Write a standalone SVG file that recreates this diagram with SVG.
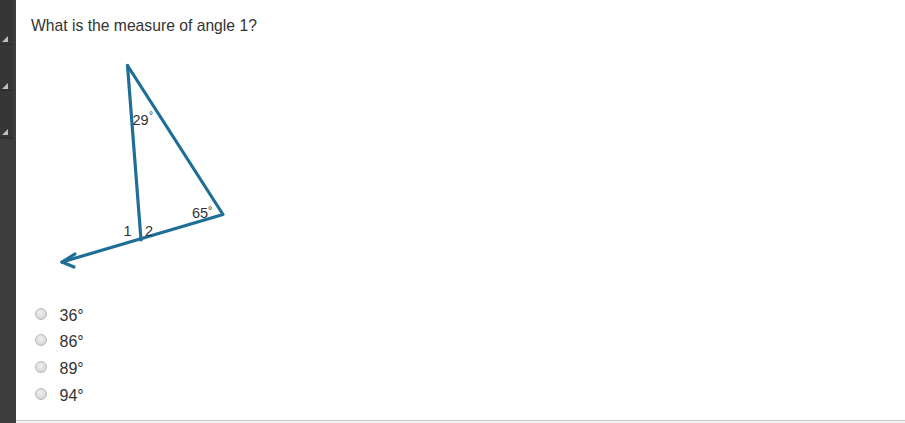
<svg xmlns="http://www.w3.org/2000/svg" width="905" height="423" viewBox="0 0 905 423">
<defs>
<style>
.t{font-family:"Liberation Sans",Arial,sans-serif;fill:#333;}
.q{font-size:15.7px;}
.o{font-size:16px;}
.l{font-size:14.5px;fill:#333;}
.e{fill:none;stroke:#1f6e97;stroke-width:3.2;stroke-linecap:round;stroke-linejoin:round;}
.r{stroke:#bdbdbd;stroke-width:1;fill:url(#rg);}
.tri{fill:#bdbdbd;}
</style>
<radialGradient id="rg" cx="0.45" cy="0.4" r="0.6">
<stop offset="0" stop-color="#f2f2f2"/>
<stop offset="1" stop-color="#d2d2d2"/>
</radialGradient>
</defs>
<rect width="905" height="423" fill="#fff"/>
<g id="sidebar">
<rect x="0" y="0" width="16" height="423" fill="#3d3d3d"/>
<rect x="0" y="0" width="13" height="140" fill="#363636"/>
<line x1="0" y1="44.5" x2="13" y2="44.5" stroke="#2a2a2a"/>
<line x1="0" y1="90.5" x2="13" y2="90.5" stroke="#2a2a2a"/>
<line x1="0" y1="137.5" x2="13" y2="137.5" stroke="#2a2a2a"/>
<polygon class="tri" points="8,36 8,42 2,42"/>
<polygon class="tri" points="8,83 8,89 2,89"/>
<polygon class="tri" points="8,129 8,135 2,135"/>
</g>
<g id="footer">
<rect x="16" y="420" width="889" height="3" fill="#f2f2f2"/>
<line x1="16" y1="420.5" x2="905" y2="420.5" stroke="#cccccc"/>
</g>
<text class="t q" x="31" y="31">What is the measure of angle 1?</text>
<g id="figure">
<polyline class="e" points="127.5,65.5 223,214.5 62,262"/>
<line class="e" x1="127.5" y1="65.5" x2="141" y2="240"/>
<polyline class="e" points="75,254 62,262 74,267"/>
<text class="t l" x="132.5" y="125">29</text>
<text class="t" x="149" y="119" font-size="10">°</text>
<text class="t l" x="192" y="218">65</text>
<text class="t" x="208" y="214" font-size="11">°</text>
<text class="t l" x="123.5" y="236">1</text>
<text class="t l" x="145" y="236">2</text>
</g>
<g id="options">
<g id="opt1"><circle class="r" cx="41" cy="314" r="5.5"/><text class="t o" x="59.5" y="321">36°</text></g>
<g id="opt2"><circle class="r" cx="41" cy="340" r="5.5"/><text class="t o" x="59.5" y="347">86°</text></g>
<g id="opt3"><circle class="r" cx="41" cy="367" r="5.5"/><text class="t o" x="59.5" y="374">89°</text></g>
<g id="opt4"><circle class="r" cx="41" cy="394" r="5.5"/><text class="t o" x="59.5" y="401">94°</text></g>
</g>
</svg>
